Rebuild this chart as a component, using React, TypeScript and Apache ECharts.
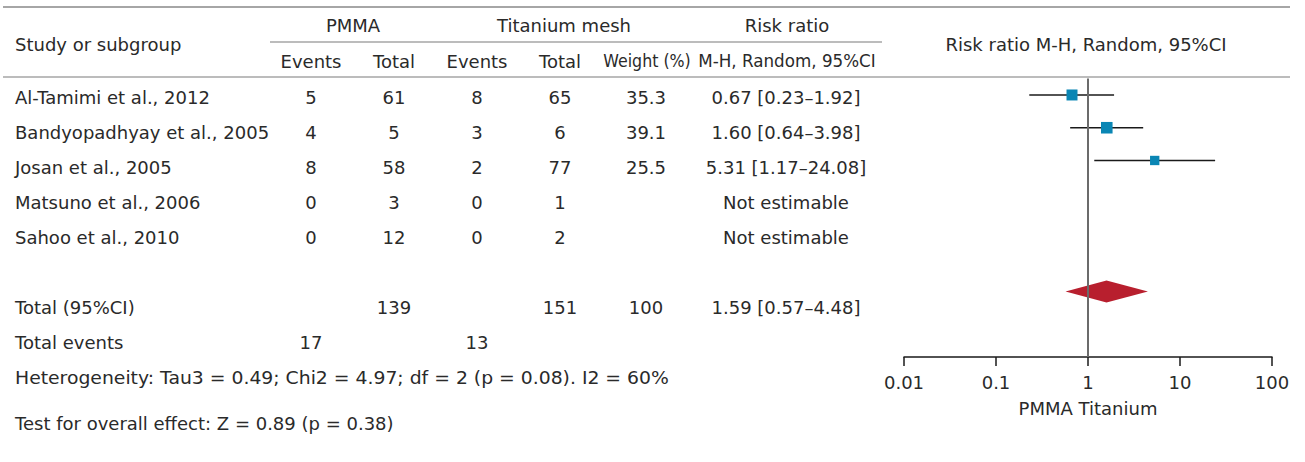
import React, { useEffect, useRef } from "react";
import * as echarts from "echarts";

const studies = [
  "Al-Tamimi et al., 2012",
  "Bandyopadhyay et al., 2005",
  "Josan et al., 2005",
  "Matsuno et al., 2006",
  "Sahoo et al., 2010",
];
const pmmaEvents = [5, 4, 8, 0, 0];
const pmmaTotal = [61, 5, 58, 3, 12];
const tiEvents = [8, 3, 2, 0, 0];
const tiTotal = [65, 6, 77, 1, 2];
const weights: (number | null)[] = [35.3, 39.1, 25.5, null, null];
const rrEst: (number | null)[] = [0.67, 1.6, 5.31, null, null];
const rrLow: (number | null)[] = [0.23, 0.64, 1.17, null, null];
const rrHigh: (number | null)[] = [1.92, 3.98, 24.08, null, null];
const rrText = [
  "0.67 [0.23–1.92]",
  "1.60 [0.64–3.98]",
  "5.31 [1.17–24.08]",
  "Not estimable",
  "Not estimable",
];
const totalPmma = 139;
const totalTi = 151;
const totalWeight = 100;
const pooled = { est: 1.59, low: 0.57, high: 4.48, text: "1.59 [0.57–4.48]" };
const totalEventsPmma = 17;
const totalEventsTi = 13;
const heterogeneityText =
  "Heterogeneity: Tau3 = 0.49; Chi2 = 4.97; df = 2 (p = 0.08). I2 = 60%";
const overallText = "Test for overall effect: Z = 0.89 (p = 0.38)";
const tickLabels = ["0.01", "0.1", "1", "10", "100"];
const axisName = "PMMA Titanium";

const FONT = "'DejaVu Sans', sans-serif";
const FS = 18;
const TXT = "#2a2a2a";
const LINE = "#a6a6a6";

export default function App() {
  const ref = useRef<HTMLDivElement>(null);
  useEffect(() => {
    if (!ref.current) return;
    const chart = echarts.init(ref.current, undefined, { renderer: "svg" });

    const t = (text: string, x: number, y: number, align = "center", fs = FS, sx = 1) => ({
      type: "text",
      silent: true,
      x,
      y,
      scaleX: sx,
      style: {
        text,
        x: 0,
        y: 0,
        textAlign: align,
        textVerticalAlign: "middle",
        align,
        verticalAlign: "middle",
        fill: TXT,
        fontSize: fs,
        fontFamily: FONT,
      },
    });
    const hl = (x1: number, x2: number, y: number, w = 1.5) => ({
      type: "line",
      silent: true,
      shape: { x1, y1: y, x2, y2: y },
      style: { stroke: LINE, lineWidth: w },
    });

    const col = { name: 15, pE: 311, pT: 394, tE: 477, tT: 560, w: 646, rr: 786 };
    const rowY = [97, 132, 167, 202, 237];
    const graphics: any[] = [
      hl(3, 1290, 7, 2),
      hl(270, 882, 42, 1.5),
      hl(3, 1290, 77, 1.5),
      t("Study or subgroup", col.name, 44, "left"),
      t("PMMA", 353, 25),
      t("Titanium mesh", 564, 25),
      t("Risk ratio", 787, 25),
      t("Events", col.pE, 61),
      t("Total", col.pT, 61),
      t("Events", col.tE, 61),
      t("Total", col.tT, 61),
      t("Weight (%)", 647, 61, "center", FS, 0.88),
      t("M-H, Random, 95%CI", 787, 61, "center", FS, 0.93),
      t("Risk ratio M-H, Random, 95%CI", 1086, 44),
    ];
    studies.forEach((s, i) => {
      const y = rowY[i];
      graphics.push(t(s, col.name, y, "left"));
      graphics.push(t(String(pmmaEvents[i]), col.pE, y));
      graphics.push(t(String(pmmaTotal[i]), col.pT, y));
      graphics.push(t(String(tiEvents[i]), col.tE, y));
      graphics.push(t(String(tiTotal[i]), col.tT, y));
      if (weights[i] != null) graphics.push(t(weights[i]!.toFixed(1), col.w, y));
      graphics.push(t(rrText[i], col.rr, y));
    });
    graphics.push(t("Total (95%CI)", col.name, 307, "left"));
    graphics.push(t(String(totalPmma), col.pT, 307));
    graphics.push(t(String(totalTi), col.tT, 307));
    graphics.push(t(String(totalWeight), col.w, 307));
    graphics.push(t(pooled.text, col.rr, 307));
    graphics.push(t("Total events", col.name, 342, "left"));
    graphics.push(t(String(totalEventsPmma), col.pE, 342));
    graphics.push(t(String(totalEventsTi), col.tE, 342));
    graphics.push(t(heterogeneityText, col.name, 378, "left", FS, 1.045));
    graphics.push(t(overallText, col.name, 423, "left"));

    const studyData = studies
      .map((_, i) => [rrEst[i], i, rrLow[i], rrHigh[i], weights[i]])
      .filter((d) => d[0] != null);

    chart.setOption({
      animation: false,
      grid: { left: 904, right: 33, top: 78.6, bottom: 462 - 357, containLabel: false },
      xAxis: {
        type: "log",
        logBase: 10,
        min: 0.01,
        max: 100,
        position: "bottom",
        axisLine: { show: true, onZero: false, lineStyle: { color: "#1a1a1a", width: 1.5 } },
        axisTick: { show: true, inside: false, length: 9, lineStyle: { color: "#1a1a1a", width: 1.5 } },
        minorTick: { show: false },
        splitLine: { show: false },
        axisLabel: {
          fontSize: FS,
          fontFamily: FONT,
          color: TXT,
          margin: 16,
          formatter: (v: number) => tickLabels[Math.round(Math.log10(v)) + 2] ?? "",
        },
        name: axisName,
        nameLocation: "middle",
        nameGap: 42,
        nameTextStyle: { fontSize: FS, fontFamily: FONT, color: TXT },
      },
      yAxis: {
        type: "value",
        inverse: true,
        min: -0.5,
        max: 8,
        show: false,
      },
      graphic: graphics,
      series: [
        {
          type: "custom",
          name: "studies",
          data: studyData,
          encode: { x: 0, y: 1 },
          renderItem: (params: any, api: any) => {
            const est = api.value(0);
            const y = api.value(1);
            const lo = api.value(2);
            const hi = api.value(3);
            const w = api.value(4);
            const pLo = api.coord([lo, y]);
            const pHi = api.coord([hi, y]);
            const pE = api.coord([est, y]);
            const size = 1.85 * Math.sqrt(w);
            return {
              type: "group",
              children: [
                {
                  type: "line",
                  shape: { x1: pLo[0], y1: pLo[1], x2: pHi[0], y2: pHi[1] },
                  style: { stroke: "#1a1a1a", lineWidth: 1.5 },
                },
                {
                  type: "rect",
                  shape: { x: pE[0] - size / 2, y: pE[1] - size / 2, width: size, height: size },
                  style: { fill: "#0a86b4" },
                },
              ],
            };
          },
          markLine: {
            silent: true,
            symbol: "none",
            label: { show: false },
            lineStyle: { color: "#6b6b6b", width: 2, type: "solid" },
            data: [{ xAxis: 1 }],
          },
          z: 3,
        },
        {
          type: "custom",
          name: "pooled",
          data: [[pooled.est, 6, pooled.low, pooled.high]],
          encode: { x: 0, y: 1 },
          renderItem: (params: any, api: any) => {
            const y = api.value(1);
            const pE = api.coord([api.value(0), y]);
            const pLo = api.coord([api.value(2), y]);
            const pHi = api.coord([api.value(3), y]);
            const h = 11;
            return {
              type: "polygon",
              shape: {
                points: [
                  [pLo[0], pLo[1]],
                  [pE[0], pE[1] - h],
                  [pHi[0], pHi[1]],
                  [pE[0], pE[1] + h],
                ],
              },
              style: { fill: "#b81f2e" },
            };
          },
          z: 4,
        },
      ],
    });
    return () => chart.dispose();
  }, []);
  return (
    <div
      ref={ref}
      style={{ position: "fixed", left: 0, top: 0, width: 1305, height: 462, background: "#fff" }}
    />
  );
}
